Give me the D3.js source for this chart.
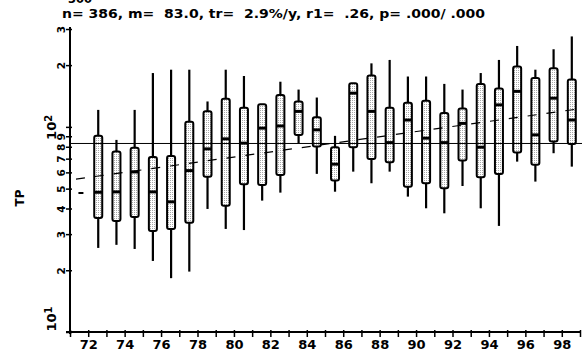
<!DOCTYPE html>
<html>
<head>
<meta charset="utf-8">
<script src="https://cdn.jsdelivr.net/npm/d3@7/dist/d3.min.js"></script>
<style>
  html, body { margin: 0; padding: 0; background: #fff; }
  svg { display: block; }
  text { font-family: "DejaVu Sans", sans-serif; font-weight: bold; fill: #000; }
</style>
</head>
<body>
<svg id="chart" width="582" height="355"></svg>
<script>
// Yearly TP distributions (box = quartiles, whiskers = low/high, thick bar = median)
const years          = [72, 73, 74, 75, 76, 77, 78, 79, 80, 81, 82, 83, 84, 85, 86, 87, 88, 89, 90, 91, 92, 93, 94, 95, 96, 97, 98];
const whiskerHigh    = [121, 86.4, 121, 183, 190, 190, 133, 190, 177, 129, 166, 152, 139, 90.4, 163, 204, 212, 176, 176, 162, 152, 183, 212, 248, 190, 239, 276];
const upperQuartile  = [90.4, 75.8, 79.0, 71.4, 72.2, 106, 119, 137, 124, 129, 143, 133, 111.5, 79.6, 163, 178, 124, 131, 134, 117, 123, 162, 154, 197, 173, 193, 170];
const medians        = [48.0, 48.2, 60.3, 48.2, 43.1, 61.2, 78.1, 87.4, 83.3, 98.6, 101, 119, 96.7, 65.8, 146, 119, 83.8, 108, 88.1, 83.8, 104, 79.6, 128, 149, 91.4, 138, 108];
const lowerQuartile  = [36.0, 34.8, 36.4, 31.1, 31.8, 34.1, 57.2, 41.3, 52.5, 52.1, 58.3, 91.4, 80.2, 54.7, 79.6, 69.8, 67.3, 51.1, 53.1, 50.2, 68.5, 56.8, 59.0, 74.9, 65.3, 84.8, 82.6];
const whiskerLow     = [25.7, 26.6, 25.4, 22.2, 18.3, 19.7, 39.8, 31.8, 31.4, 43.7, 47.8, 83.3, 59.0, 48.3, 60.5, 53.1, 60.5, 45.7, 40.1, 37.9, 51.5, 40.1, 32.9, 67.7, 54.1, 74.4, 64.0];

// Summary statistics
const overallMedian = 83.0;     // m
const trendRate     = 0.029;    // tr, per year
const trendStart    = 55.1;     // fitted level at the start of the record
const startMark     = { year: 71.6, value: 47.6 };

// Axis ticks and labels
const xDomain     = [71, 99];
const yDomain     = [10, 300];
const xTickYears  = d3.range(71, 100);
const xLabelYears = [72, 74, 76, 78, 80, 82, 84, 86, 88, 90, 92, 94, 96, 98];
const yTickValues = [10, 20, 30, 40, 50, 60, 70, 80, 90, 100, 200, 300];
const yTickLabels = ["10|1", "2", "3", "4", "5", "6", "7", "8", "9", "10|2", "2", "3"];
const headerText  = "n= 386, m=  83.0, tr=  2.9%/y, r1=  .26, p= .000/ .000";
const clippedText = "300";
const yTitle      = "TP";

const svg = d3.select("#chart");

const x = d3.scaleLinear().domain(xDomain).range([70, 580]);
const y = d3.scaleLog().domain(yDomain).range([332, 29]);

// stippled box fill
const defs = svg.append("defs");
const pat = defs.append("pattern")
  .attr("id", "stipple").attr("patternUnits", "userSpaceOnUse")
  .attr("width", 2).attr("height", 2);
pat.append("rect").attr("width", 2).attr("height", 2).attr("fill", "#fff");
pat.append("rect").attr("width", 1).attr("height", 1).attr("fill", "#a8a8a8");

// header lines
svg.append("text").attr("x", 68).attr("y", 3)
  .style("font-size", "11.5px").text(clippedText);
svg.append("text").attr("x", 62).attr("y", 18)
  .style("font-size", "11.5px")
  .attr("xml:space", "preserve").style("white-space", "pre")
  .attr("textLength", 423).attr("lengthAdjust", "spacingAndGlyphs")
  .text(headerText);

// boxes
const boxes = years.map((yr, i) => ({
  year: yr, hi: whiskerHigh[i], q3: upperQuartile[i], med: medians[i],
  q1: lowerQuartile[i], lo: whiskerLow[i]
}));
const bw = 8;
const cx = d => x(d.year + 0.55);

const g = svg.append("g");
g.selectAll("line.whisker").data(boxes).join("line")
  .attr("class", "whisker")
  .attr("x1", cx).attr("x2", cx)
  .attr("y1", d => y(d.hi)).attr("y2", d => y(d.lo))
  .attr("stroke", "#000").attr("stroke-width", 2.2);

g.selectAll("rect.box").data(boxes).join("rect")
  .attr("class", "box")
  .attr("x", d => cx(d) - bw / 2).attr("width", bw)
  .attr("y", d => y(d.q3)).attr("height", d => y(d.q1) - y(d.q3))
  .attr("rx", 2).attr("ry", 2)
  .attr("fill", "url(#stipple)")
  .attr("stroke", "#000").attr("stroke-width", 2);

g.selectAll("rect.median").data(boxes).join("rect")
  .attr("class", "median")
  .attr("x", d => cx(d) - bw / 2).attr("width", bw)
  .attr("y", d => y(d.med) - 1.5).attr("height", 3)
  .attr("fill", "#000");

// overall median reference line
svg.append("line")
  .attr("x1", x(xDomain[0])).attr("x2", 582)
  .attr("y1", y(overallMedian)).attr("y2", y(overallMedian))
  .attr("stroke", "#000").attr("stroke-width", 1);

// trend line
const trendAt = t => trendStart * Math.pow(1 + trendRate, t - xDomain[0]);
const trendT0 = xDomain[0] + 6 / (x(72) - x(71));
svg.append("line")
  .attr("x1", x(trendT0)).attr("x2", x(xDomain[1]))
  .attr("y1", y(trendAt(trendT0))).attr("y2", y(trendAt(xDomain[1])))
  .attr("stroke", "#000").attr("stroke-width", 1.2)
  .attr("stroke-dasharray", "9,10");

svg.append("rect")
  .attr("x", x(startMark.year) - 2.5).attr("y", y(startMark.value) - 1)
  .attr("width", 5).attr("height", 2).attr("fill", "#000");

// x axis
const xAxis = d3.axisBottom(x).tickValues(xTickYears).tickSizeInner(5).tickSizeOuter(0)
  .tickFormat(d => xLabelYears.includes(d) ? String(d) : "");
const gx = svg.append("g").attr("transform", "translate(0,332)").call(xAxis);
gx.select(".domain").attr("stroke-width", 2).attr("d", "M66,0H581");
gx.selectAll(".tick line").attr("stroke-width", 1.5).attr("y1", -2);
gx.selectAll(".tick text").attr("y", 8).attr("dy", "0.71em")
  .style("font-size", "13px").style("font-family", "'DejaVu Sans', sans-serif").style("font-weight", "bold");

// y axis
const yAxis = d3.axisLeft(y).tickValues(yTickValues).tickSizeInner(4).tickSizeOuter(0).tickFormat("");
const gy = svg.append("g").attr("transform", "translate(70,0)").call(yAxis);
gy.select(".domain").attr("stroke-width", 2).attr("d", "M0,27V334");
gy.selectAll(".tick line").attr("stroke-width", 1.5).attr("x2", -4).attr("x1", 2);

gy.selectAll(".tick").each(function (d, i) {
  const parts = yTickLabels[i].split("|");
  const t = d3.select(this).append("text")
    .attr("fill", "#000").style("font-family", "'DejaVu Sans', sans-serif").style("font-weight", "bold");
  if (parts.length === 2) {
    // power-of-ten labels: base with raised exponent
    const anchor = d === 10 ? "start" : "middle";
    t.attr("transform", `translate(-14,${d === 10 ? -1 : 0}) rotate(-90)`)
      .attr("text-anchor", anchor).style("font-size", "13px");
    t.append("tspan").text(parts[0]);
    t.append("tspan").attr("dy", "-0.45em").style("font-size", "10px").text(parts[1]);
  } else {
    t.attr("transform", "translate(-5,0) rotate(-90)")
      .attr("text-anchor", "middle").style("font-size", "10.5px").text(parts[0]);
  }
});

// y title
svg.append("text")
  .attr("transform", "translate(24,198) rotate(-90)")
  .attr("text-anchor", "middle").style("font-size", "12px")
  .text(yTitle);
</script>
</body>
</html>
